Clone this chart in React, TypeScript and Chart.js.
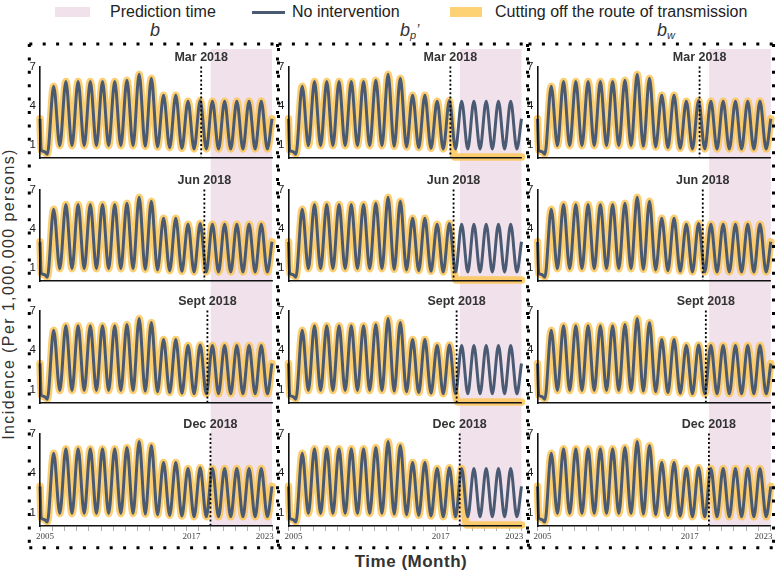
import React, { useEffect, useRef } from 'react';
import { Chart, registerables } from 'chart.js';

Chart.register(...registerables);

// ---------------- data ----------------
const TIMES = [
  2005.0, 2005.1, 2005.35, 2005.6,
  2006.12, 2006.62, 2007.12, 2007.62, 2008.12, 2008.62, 2009.12, 2009.62,
  2010.12, 2010.62, 2011.12, 2011.62, 2012.12, 2012.62, 2013.12, 2013.62,
  2014.12, 2014.62, 2015.12, 2015.62, 2016.12, 2016.62, 2017.12, 2017.62,
  2018.12, 2018.62, 2019.12, 2019.62, 2020.12, 2020.62, 2021.12, 2021.62,
  2022.12, 2022.62, 2023.12, 2023.62, 2024.0,
];
const NO_INTERVENTION = [
  3.0, 0.6, 0.5, 0.3,
  5.5, 0.95, 5.85, 0.95, 5.85, 0.95, 5.85, 0.95,
  5.85, 0.95, 5.85, 0.95, 5.95, 0.95, 6.4, 0.9,
  6.1, 0.85, 4.8, 0.8, 4.8, 0.75, 4.35, 0.7,
  4.4, 0.7, 4.35, 0.7, 4.35, 0.7, 4.35, 0.7,
  4.35, 0.7, 4.35, 0.7, 3.0,
];
const Y_TICKS = [1, 4, 7];
const YEAR_TICKS = [2005, 2006, 2007, 2008, 2009, 2010, 2011, 2012, 2013, 2014, 2015, 2016, 2017, 2018, 2019, 2020, 2021, 2022, 2023, 2024];
const X_TICK_LABELS = ['2005', '2017', '2023'];
const INTERVENTION_LABELS = ['Mar 2018', 'Jun 2018', 'Sept 2018', 'Dec 2018'];
const INTERVENTION_TIMES = [2018.2, 2018.46, 2018.71, 2018.96];
const PREDICTION_START = 2018.98;
const PREDICTION_END = 2024;
// b_p' column: route of transmission cut -> incidence falls to the floor
const CUT_KEEP_UNTIL = [2018.12, 2018.12, 2018.62, 2019.12];
const CUT_TAIL_TIMES = [[2018.55, 2024.0], [2018.65, 2024.0], [2018.82, 2024.0], [2019.52, 2024.0]];
const CUT_TAIL_VALUES = [[0.08, 0.08], [0.08, 0.08], [0.08, 0.08], [0.08, 0.08]];

// ---------------- style / layout ----------------
const BLUE = '#4A5A72';
const ORANGE = 'rgba(252, 198, 86, 0.85)';
const ORANGE_SOLID = '#FCD275';
const SHADE = '#F0E1EB';
const FONT = '"Liberation Sans", Arial, sans-serif';

const COL_LEFT = [40, 288.5, 537.5];
const COL_RIGHT = [272, 521.5, 770.8];
const ROW_TOP = [66.5, 189.5, 310.5, 433.5];
const ROW_BOTTOM = [159, 282, 403.5, 526];
const SHADE_TOP = [49, 157, 280, 401];
const Y_AXIS_W = 24;

const decorPlugin = {
  id: 'decor',
  beforeDraw(chart: any, _args: any, opts: any) {
    const { ctx, chartArea, scales } = chart;
    const x = scales.x;
    const x0 = x.getPixelForValue(opts.predStart);
    const x1 = x.getPixelForValue(opts.predEnd);
    ctx.save();
    ctx.fillStyle = SHADE;
    ctx.fillRect(x0, 0, x1 - x0, chartArea.bottom);
    ctx.restore();
  },
  afterDatasetsDraw(chart: any, _args: any, opts: any) {
    const { ctx, chartArea, scales } = chart;
    const xp = scales.x.getPixelForValue(opts.cutTime);
    ctx.save();
    ctx.strokeStyle = '#000';
    ctx.lineWidth = 1.8;
    ctx.setLineDash([2, 2.3]);
    ctx.beginPath();
    ctx.moveTo(xp, chartArea.top);
    ctx.lineTo(xp, chartArea.bottom);
    ctx.stroke();
    ctx.setLineDash([]);
    ctx.fillStyle = '#333';
    ctx.font = 'bold 12.5px "Liberation Sans", Arial, sans-serif';
    ctx.textAlign = 'center';
    ctx.textBaseline = 'middle';
    ctx.fillText(opts.label, xp, chartArea.top - 9);
    ctx.restore();
  },
};

function Panel({ col, row }: { col: number; row: number }) {
  const ref = useRef<HTMLCanvasElement>(null);
  const left = Math.floor(COL_LEFT[col]) - Y_AXIS_W;
  const padL = COL_LEFT[col] - Y_AXIS_W - left;
  const right = Math.ceil(COL_RIGHT[col]) + 8;
  const width = right - left;
  const padR = right - COL_RIGHT[col];
  const top = Math.floor(SHADE_TOP[row]);
  const padT = ROW_TOP[row] - top;
  const bottom = Math.ceil(ROW_BOTTOM[row]) + (row === 3 ? 20 : 10);
  const height = bottom - top;
  const xH = row === 3 ? 16 : 4;
  const padB = height - (ROW_BOTTOM[row] - top) - xH;

  useEffect(() => {
    const blue = TIMES.map((t, i) => ({ x: t, y: NO_INTERVENTION[i] }));
    let orange = blue;
    if (col === 1) {
      orange = blue.filter((p) => p.x <= CUT_KEEP_UNTIL[row]).concat(
        CUT_TAIL_TIMES[row].map((t, i) => ({ x: t, y: CUT_TAIL_VALUES[row][i] }))
      );
    }
    const chart = new Chart(ref.current as HTMLCanvasElement, {
      type: 'line',
      data: {
        datasets: [
          {
            label: 'No intervention',
            data: blue,
            borderColor: BLUE,
            borderWidth: 3,
            pointRadius: 0,
            cubicInterpolationMode: 'monotone',
            clip: false,
            order: 0,
            borderJoinStyle: 'round',
          } as any,
          {
            label: 'Cutting off the route of transmission',
            data: orange,
            borderColor: ORANGE,
            borderWidth: 7.5,
            pointRadius: 0,
            cubicInterpolationMode: 'monotone',
            clip: false,
            order: 1,
            borderJoinStyle: 'round',
            borderCapStyle: 'round',
          } as any,
        ],
      },
      options: {
        animation: false,
        responsive: false,
        events: [],
        layout: { padding: { left: padL, right: padR, top: padT, bottom: padB } },
        plugins: {
          legend: { display: false },
          tooltip: { enabled: false },
          decor: {
            predStart: PREDICTION_START,
            predEnd: PREDICTION_END,
            cutTime: INTERVENTION_TIMES[row],
            label: INTERVENTION_LABELS[row],
          },
        } as any,
        scales: {
          x: {
            type: 'linear',
            min: 2005,
            max: 2024,
            afterBuildTicks: (s: any) => {
              s.ticks = YEAR_TICKS.map((v) => ({ value: v }));
            },
            afterFit: (s: any) => {
              s.height = xH;
            },
            grid: {
              display: row === 3,
              drawOnChartArea: false,
              drawTicks: true,
              tickLength: 5,
              color: '#9a9a9a',
              lineWidth: 0.8,
            },
            border: { display: true, color: '#111', width: 1.6, z: 1 },
            ticks: {
              display: row === 3,
              autoSkip: false,
              maxRotation: 0,
              minRotation: 0,
              padding: 0,
              labelOffset: 5,
              color: '#444',
              font: { family: '"Liberation Serif", "Times New Roman", serif', size: 9 },
              callback: (v: any) => (X_TICK_LABELS.includes(String(v)) ? String(v) : ''),
            },
          },
          y: {
            type: 'linear',
            min: 0,
            max: 7,
            afterBuildTicks: (s: any) => {
              s.ticks = Y_TICKS.map((v) => ({ value: v }));
            },
            afterFit: (s: any) => {
              s.width = Y_AXIS_W;
            },
            grid: { display: false, drawTicks: false },
            border: { display: true, color: '#111', width: 1.6, z: 1 },
            ticks: {
              padding: 4,
              color: '#1a1a1a',
              font: { family: FONT, size: 11.5 },
              callback: (v: any) => String(v),
            },
          },
        },
      },
      plugins: [decorPlugin as any],
    });
    return () => chart.destroy();
  }, [col, row]);

  return (
    <canvas
      ref={ref}
      width={width}
      height={height}
      style={{ position: 'absolute', left, top, width, height, zIndex: 10 - row }}
    />
  );
}

const DOT = { stroke: '#000', strokeWidth: 3, strokeDasharray: '3 10.4' };
const FRAMES = [
  { l: 29.3, r: 277.5 },
  { l: 278.5, r: 527.5 },
  { l: 528.5, r: 773.5 },
];
const FRAME_TOP = 44;
const FRAME_BOTTOM = 547.7;

const legendText: React.CSSProperties = {
  position: 'absolute',
  top: 4,
  fontSize: 16,
  lineHeight: '16px',
  color: '#222',
  whiteSpace: 'nowrap',
};

const titleStyle: React.CSSProperties = {
  position: 'absolute',
  top: 21,
  fontSize: 18,
  lineHeight: '18px',
  fontStyle: 'italic',
  color: '#333',
  whiteSpace: 'nowrap',
};

export default function App() {
  const panels = [];
  for (let r = 0; r < 4; r++) for (let c = 0; c < 3; c++) panels.push(<Panel key={`${r}-${c}`} col={c} row={r} />);
  return (
    <div
      style={{
        position: 'absolute',
        left: 0,
        top: 0,
        width: 780,
        height: 573,
        background: '#fff',
        overflow: 'hidden',
        fontFamily: FONT,
      }}
    >
      {/* legend */}
      <div style={{ position: 'absolute', left: 55, top: 7, width: 35, height: 10, background: SHADE }} />
      <div style={{ ...legendText, left: 110 }}>Prediction time</div>
      <div style={{ position: 'absolute', left: 252, top: 10.5, width: 33, height: 3, background: BLUE }} />
      <div style={{ ...legendText, left: 292 }}>No intervention</div>
      <div style={{ position: 'absolute', left: 450, top: 7, width: 32, height: 10, background: ORANGE_SOLID }} />
      <div style={{ ...legendText, left: 495 }}>Cutting off the route of transmission</div>

      {/* column titles */}
      <div style={{ ...titleStyle, left: 150 }}>b</div>
      <div style={{ ...titleStyle, left: 400 }}>
        b<span style={{ fontSize: 11, position: 'relative', top: 3 }}>p</span>
        <span style={{ fontSize: 14, position: 'relative', top: -2 }}>’</span>
      </div>
      <div style={{ ...titleStyle, left: 657 }}>
        b<span style={{ fontSize: 11, position: 'relative', top: 3 }}>w</span>
      </div>

      {panels}

      {/* dotted frames */}
      <svg width={780} height={573} style={{ position: 'absolute', left: 0, top: 0, zIndex: 20, pointerEvents: 'none' }}>
        {FRAMES.map((f, i) => (
          <g key={i}>
            <line x1={f.l} y1={FRAME_TOP} x2={f.r} y2={FRAME_TOP} {...DOT} />
            <line x1={f.l} y1={FRAME_BOTTOM} x2={f.r} y2={FRAME_BOTTOM} {...DOT} />
            <line x1={f.l} y1={FRAME_TOP} x2={f.l} y2={FRAME_BOTTOM} {...DOT} strokeDashoffset={i === 0 ? 0 : -4} />
            <line x1={f.r} y1={FRAME_TOP} x2={f.r} y2={FRAME_BOTTOM} {...DOT} />
          </g>
        ))}
      </svg>

      {/* axis titles */}
      <div
        style={{
          position: 'absolute',
          left: 9 - 170,
          top: 294 - 10,
          width: 340,
          height: 20,
          lineHeight: '20px',
          textAlign: 'center',
          transform: 'rotate(-90deg)',
          fontSize: 16,
          letterSpacing: '1.4px',
          color: '#333',
          whiteSpace: 'nowrap',
        }}
      >
        Incidence (Per 1,000,000 persons)
      </div>
      <div
        style={{
          position: 'absolute',
          left: 411 - 100,
          top: 552.4,
          width: 200,
          height: 20,
          lineHeight: '20px',
          textAlign: 'center',
          fontSize: 17,
          fontWeight: 'bold',
          letterSpacing: '0.5px',
          color: '#333',
          whiteSpace: 'nowrap',
        }}
      >
        Time (Month)
      </div>
    </div>
  );
}
